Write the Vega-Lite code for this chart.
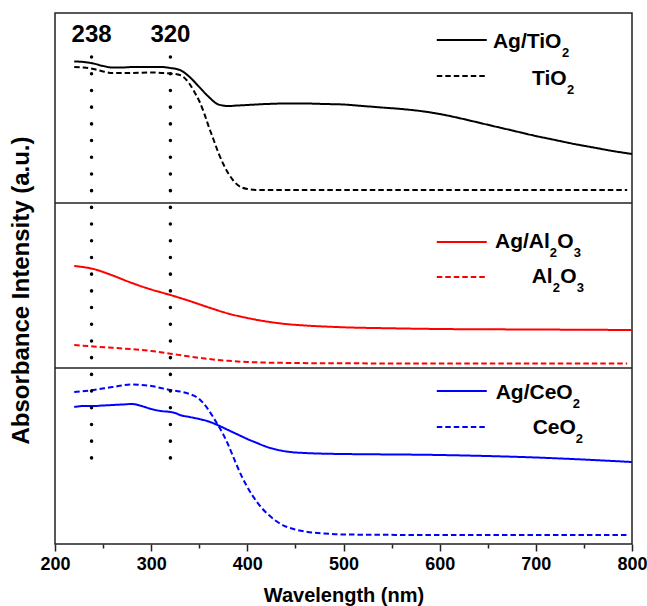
{
  "$schema": "https://vega.github.io/schema/vega-lite/v6.json",
  "width": 577,
  "height": 531,
  "autosize": {"type": "none"},
  "padding": {"left": 55, "top": 13, "right": 15, "bottom": 62},
  "background": "white",
  "config": {
    "view": {"stroke": "#222222", "strokeWidth": 1.5},
    "font": "Liberation Sans",
    "text": {"font": "Liberation Sans", "fontWeight": "bold", "color": "black", "align": "left", "baseline": "alphabetic", "fontSize": 21}
  },
  "datasets": {
    "spectra": [
      {"series": "Ag/TiO2", "wl": 220, "a": 482.5},
      {"series": "Ag/TiO2", "wl": 230, "a": 482},
      {"series": "Ag/TiO2", "wl": 240, "a": 480.5},
      {"series": "Ag/TiO2", "wl": 250, "a": 478},
      {"series": "Ag/TiO2", "wl": 260, "a": 476.5},
      {"series": "Ag/TiO2", "wl": 270, "a": 476.5},
      {"series": "Ag/TiO2", "wl": 280, "a": 477},
      {"series": "Ag/TiO2", "wl": 300, "a": 477},
      {"series": "Ag/TiO2", "wl": 310, "a": 477},
      {"series": "Ag/TiO2", "wl": 320, "a": 476},
      {"series": "Ag/TiO2", "wl": 330, "a": 474},
      {"series": "Ag/TiO2", "wl": 340, "a": 467},
      {"series": "Ag/TiO2", "wl": 350, "a": 457},
      {"series": "Ag/TiO2", "wl": 360, "a": 447},
      {"series": "Ag/TiO2", "wl": 370, "a": 439.5},
      {"series": "Ag/TiO2", "wl": 380, "a": 438},
      {"series": "Ag/TiO2", "wl": 390, "a": 438.5},
      {"series": "Ag/TiO2", "wl": 400, "a": 439},
      {"series": "Ag/TiO2", "wl": 420, "a": 440},
      {"series": "Ag/TiO2", "wl": 440, "a": 440.5},
      {"series": "Ag/TiO2", "wl": 460, "a": 440.5},
      {"series": "Ag/TiO2", "wl": 480, "a": 440},
      {"series": "Ag/TiO2", "wl": 500, "a": 439.5},
      {"series": "Ag/TiO2", "wl": 520, "a": 438},
      {"series": "Ag/TiO2", "wl": 540, "a": 436.5},
      {"series": "Ag/TiO2", "wl": 560, "a": 435},
      {"series": "Ag/TiO2", "wl": 580, "a": 433},
      {"series": "Ag/TiO2", "wl": 600, "a": 430},
      {"series": "Ag/TiO2", "wl": 620, "a": 426},
      {"series": "Ag/TiO2", "wl": 640, "a": 421.5},
      {"series": "Ag/TiO2", "wl": 660, "a": 417},
      {"series": "Ag/TiO2", "wl": 680, "a": 412.5},
      {"series": "Ag/TiO2", "wl": 700, "a": 408},
      {"series": "Ag/TiO2", "wl": 720, "a": 404},
      {"series": "Ag/TiO2", "wl": 740, "a": 400},
      {"series": "Ag/TiO2", "wl": 760, "a": 396.5},
      {"series": "Ag/TiO2", "wl": 780, "a": 393},
      {"series": "Ag/TiO2", "wl": 800, "a": 390},
      {"series": "TiO2", "wl": 220, "a": 477},
      {"series": "TiO2", "wl": 230, "a": 476.5},
      {"series": "TiO2", "wl": 240, "a": 475},
      {"series": "TiO2", "wl": 250, "a": 472.5},
      {"series": "TiO2", "wl": 260, "a": 471},
      {"series": "TiO2", "wl": 280, "a": 471},
      {"series": "TiO2", "wl": 300, "a": 471.5},
      {"series": "TiO2", "wl": 320, "a": 470.5},
      {"series": "TiO2", "wl": 330, "a": 469},
      {"series": "TiO2", "wl": 340, "a": 460},
      {"series": "TiO2", "wl": 345, "a": 452},
      {"series": "TiO2", "wl": 350, "a": 443},
      {"series": "TiO2", "wl": 355, "a": 431},
      {"series": "TiO2", "wl": 360, "a": 417},
      {"series": "TiO2", "wl": 365, "a": 404},
      {"series": "TiO2", "wl": 370, "a": 391},
      {"series": "TiO2", "wl": 375, "a": 380},
      {"series": "TiO2", "wl": 380, "a": 371},
      {"series": "TiO2", "wl": 385, "a": 364},
      {"series": "TiO2", "wl": 390, "a": 359},
      {"series": "TiO2", "wl": 400, "a": 355},
      {"series": "TiO2", "wl": 410, "a": 354},
      {"series": "TiO2", "wl": 450, "a": 354},
      {"series": "TiO2", "wl": 500, "a": 354},
      {"series": "TiO2", "wl": 600, "a": 354},
      {"series": "TiO2", "wl": 700, "a": 354},
      {"series": "TiO2", "wl": 795, "a": 354},
      {"series": "Ag/Al2O3", "wl": 220, "a": 278},
      {"series": "Ag/Al2O3", "wl": 240, "a": 275},
      {"series": "Ag/Al2O3", "wl": 260, "a": 268.5},
      {"series": "Ag/Al2O3", "wl": 280, "a": 261},
      {"series": "Ag/Al2O3", "wl": 300, "a": 254.5},
      {"series": "Ag/Al2O3", "wl": 320, "a": 249},
      {"series": "Ag/Al2O3", "wl": 340, "a": 243},
      {"series": "Ag/Al2O3", "wl": 360, "a": 236.5},
      {"series": "Ag/Al2O3", "wl": 380, "a": 230.5},
      {"series": "Ag/Al2O3", "wl": 400, "a": 226},
      {"series": "Ag/Al2O3", "wl": 420, "a": 222.5},
      {"series": "Ag/Al2O3", "wl": 440, "a": 220},
      {"series": "Ag/Al2O3", "wl": 460, "a": 218.5},
      {"series": "Ag/Al2O3", "wl": 480, "a": 217.5},
      {"series": "Ag/Al2O3", "wl": 500, "a": 216.7},
      {"series": "Ag/Al2O3", "wl": 550, "a": 215.7},
      {"series": "Ag/Al2O3", "wl": 600, "a": 215},
      {"series": "Ag/Al2O3", "wl": 700, "a": 214.5},
      {"series": "Ag/Al2O3", "wl": 800, "a": 214},
      {"series": "Al2O3", "wl": 220, "a": 199},
      {"series": "Al2O3", "wl": 240, "a": 197.5},
      {"series": "Al2O3", "wl": 260, "a": 196.2},
      {"series": "Al2O3", "wl": 280, "a": 194.8},
      {"series": "Al2O3", "wl": 300, "a": 193},
      {"series": "Al2O3", "wl": 320, "a": 190.3},
      {"series": "Al2O3", "wl": 340, "a": 187.5},
      {"series": "Al2O3", "wl": 360, "a": 185},
      {"series": "Al2O3", "wl": 380, "a": 183.2},
      {"series": "Al2O3", "wl": 400, "a": 182},
      {"series": "Al2O3", "wl": 450, "a": 181},
      {"series": "Al2O3", "wl": 500, "a": 180.7},
      {"series": "Al2O3", "wl": 600, "a": 180.5},
      {"series": "Al2O3", "wl": 795, "a": 180.5},
      {"series": "Ag/CeO2", "wl": 220, "a": 137},
      {"series": "Ag/CeO2", "wl": 230, "a": 138},
      {"series": "Ag/CeO2", "wl": 240, "a": 138},
      {"series": "Ag/CeO2", "wl": 250, "a": 138.5},
      {"series": "Ag/CeO2", "wl": 260, "a": 139},
      {"series": "Ag/CeO2", "wl": 270, "a": 139.5},
      {"series": "Ag/CeO2", "wl": 280, "a": 140},
      {"series": "Ag/CeO2", "wl": 290, "a": 138},
      {"series": "Ag/CeO2", "wl": 300, "a": 135},
      {"series": "Ag/CeO2", "wl": 310, "a": 133},
      {"series": "Ag/CeO2", "wl": 320, "a": 132},
      {"series": "Ag/CeO2", "wl": 325, "a": 131},
      {"series": "Ag/CeO2", "wl": 330, "a": 129},
      {"series": "Ag/CeO2", "wl": 340, "a": 127},
      {"series": "Ag/CeO2", "wl": 350, "a": 125},
      {"series": "Ag/CeO2", "wl": 360, "a": 122.5},
      {"series": "Ag/CeO2", "wl": 370, "a": 118.5},
      {"series": "Ag/CeO2", "wl": 380, "a": 114},
      {"series": "Ag/CeO2", "wl": 390, "a": 109.5},
      {"series": "Ag/CeO2", "wl": 400, "a": 105},
      {"series": "Ag/CeO2", "wl": 410, "a": 101},
      {"series": "Ag/CeO2", "wl": 420, "a": 97.2},
      {"series": "Ag/CeO2", "wl": 430, "a": 94.5},
      {"series": "Ag/CeO2", "wl": 440, "a": 92.6},
      {"series": "Ag/CeO2", "wl": 450, "a": 91.5},
      {"series": "Ag/CeO2", "wl": 460, "a": 91},
      {"series": "Ag/CeO2", "wl": 480, "a": 90.3},
      {"series": "Ag/CeO2", "wl": 500, "a": 90},
      {"series": "Ag/CeO2", "wl": 600, "a": 89},
      {"series": "Ag/CeO2", "wl": 700, "a": 86.5},
      {"series": "Ag/CeO2", "wl": 800, "a": 82},
      {"series": "CeO2", "wl": 220, "a": 152},
      {"series": "CeO2", "wl": 240, "a": 154},
      {"series": "CeO2", "wl": 260, "a": 157},
      {"series": "CeO2", "wl": 280, "a": 159.5},
      {"series": "CeO2", "wl": 290, "a": 159},
      {"series": "CeO2", "wl": 300, "a": 158},
      {"series": "CeO2", "wl": 310, "a": 156},
      {"series": "CeO2", "wl": 320, "a": 154},
      {"series": "CeO2", "wl": 330, "a": 152.5},
      {"series": "CeO2", "wl": 340, "a": 150},
      {"series": "CeO2", "wl": 350, "a": 145},
      {"series": "CeO2", "wl": 355, "a": 140},
      {"series": "CeO2", "wl": 360, "a": 133.5},
      {"series": "CeO2", "wl": 365, "a": 126},
      {"series": "CeO2", "wl": 370, "a": 118},
      {"series": "CeO2", "wl": 375, "a": 109.5},
      {"series": "CeO2", "wl": 380, "a": 99.5},
      {"series": "CeO2", "wl": 385, "a": 88},
      {"series": "CeO2", "wl": 390, "a": 76.5},
      {"series": "CeO2", "wl": 395, "a": 66},
      {"series": "CeO2", "wl": 400, "a": 57},
      {"series": "CeO2", "wl": 405, "a": 49},
      {"series": "CeO2", "wl": 410, "a": 42},
      {"series": "CeO2", "wl": 415, "a": 36},
      {"series": "CeO2", "wl": 420, "a": 31},
      {"series": "CeO2", "wl": 430, "a": 23},
      {"series": "CeO2", "wl": 440, "a": 17.5},
      {"series": "CeO2", "wl": 450, "a": 14.5},
      {"series": "CeO2", "wl": 460, "a": 12.5},
      {"series": "CeO2", "wl": 480, "a": 10.5},
      {"series": "CeO2", "wl": 500, "a": 9.5},
      {"series": "CeO2", "wl": 600, "a": 9},
      {"series": "CeO2", "wl": 795, "a": 9}
    ]
  },
  "layer": [
    {
      "data": {"name": "spectra"},
      "mark": {"type": "line", "strokeWidth": 2, "interpolate": "monotone"},
      "encoding": {
        "x": {
          "field": "wl", "type": "quantitative",
          "scale": {"domain": [200, 800], "nice": false},
          "axis": {
            "values": [200, 250, 300, 350, 400, 450, 500, 550, 600, 650, 700, 750, 800],
            "labelExpr": "datum.value % 100 === 0 ? datum.label : ''",
            "tickSize": {"condition": {"test": "datum.value % 100 === 0", "value": 7}, "value": 4},
            "tickColor": "#222222", "tickWidth": 1.5,
            "domain": false, "grid": false,
            "labelFlush": false, "labelOverlap": false,
            "labelFont": "Liberation Sans", "labelFontWeight": "bold", "labelFontSize": 18,
            "labelColor": "black", "labelPadding": 4,
            "title": "Wavelength (nm)",
            "titleFont": "Liberation Sans", "titleFontWeight": "bold", "titleFontSize": 20,
            "titleColor": "black", "titlePadding": 12
          }
        },
        "y": {
          "field": "a", "type": "quantitative",
          "scale": {"domain": [0, 531], "nice": false, "zero": false},
          "axis": {
            "ticks": false, "labels": false, "domain": false, "grid": false,
            "title": "Absorbance Intensity (a.u.)",
            "titleFont": "Liberation Sans", "titleFontWeight": "bold", "titleFontSize": 24,
            "titleColor": "black", "titlePadding": 22, "titleY": 277
          }
        },
        "color": {
          "field": "series", "type": "nominal",
          "scale": {
            "domain": ["Ag/TiO2", "TiO2", "Ag/Al2O3", "Al2O3", "Ag/CeO2", "CeO2"],
            "range": ["#000000", "#000000", "#ff0000", "#ff0000", "#0000ff", "#0000ff"]
          },
          "legend": null
        },
        "strokeDash": {
          "field": "series", "type": "nominal",
          "scale": {
            "domain": ["Ag/TiO2", "TiO2", "Ag/Al2O3", "Al2O3", "Ag/CeO2", "CeO2"],
            "range": [[1, 0], [5.5, 3], [1, 0], [5.5, 3], [1, 0], [5.5, 3]]
          },
          "legend": null
        }
      }
    },
    {
      "data": {"values": [{"panel_edge": 341}, {"panel_edge": 176}]},
      "mark": {"type": "rule", "color": "#222222", "strokeWidth": 1.5},
      "encoding": {"y": {"field": "panel_edge", "type": "quantitative"}}
    },
    {
      "data": {"values": [{"wl": 238}, {"wl": 320}]},
      "mark": {"type": "rule", "color": "black", "strokeWidth": 3.5, "strokeCap": "round", "strokeDash": [0.1, 16.6]},
      "encoding": {
        "x": {"field": "wl", "type": "quantitative"},
        "y": {"datum": 487},
        "y2": {"datum": 72}
      }
    },
    {
      "data": {"values": [{"wl": 238, "label": "238"}, {"wl": 320, "label": "320"}]},
      "mark": {"type": "text", "fontSize": 24, "baseline": "middle", "align": "center"},
      "encoding": {
        "x": {"field": "wl", "type": "quantitative"},
        "y": {"datum": 509},
        "text": {"field": "label"}
      }
    },
    {
      "data": {"values": [{}]},
      "mark": {"type": "rule", "color": "#000000", "strokeWidth": 2},
      "encoding": {"x": {"datum": 597}, "x2": {"datum": 649}, "y": {"datum": 504}}
    },
    {
      "data": {"values": [{}]},
      "mark": {"type": "rule", "color": "#000000", "strokeWidth": 2, "strokeDash": [5.5, 3]},
      "encoding": {"x": {"datum": 597}, "x2": {"datum": 649}, "y": {"datum": 468}}
    },
    {
      "data": {"values": [{}]},
      "mark": {"type": "rule", "color": "#ff0000", "strokeWidth": 2},
      "encoding": {"x": {"datum": 597}, "x2": {"datum": 649}, "y": {"datum": 302}}
    },
    {
      "data": {"values": [{}]},
      "mark": {"type": "rule", "color": "#ff0000", "strokeWidth": 2, "strokeDash": [5.5, 3]},
      "encoding": {"x": {"datum": 597}, "x2": {"datum": 649}, "y": {"datum": 267}}
    },
    {
      "data": {"values": [{}]},
      "mark": {"type": "rule", "color": "#0000ff", "strokeWidth": 2},
      "encoding": {"x": {"datum": 597}, "x2": {"datum": 649}, "y": {"datum": 153}}
    },
    {
      "data": {"values": [{}]},
      "mark": {"type": "rule", "color": "#0000ff", "strokeWidth": 2, "strokeDash": [5.5, 3]},
      "encoding": {"x": {"datum": 597}, "x2": {"datum": 649}, "y": {"datum": 117}}
    },
    {
      "data": {"values": [{}]},
      "mark": {"type": "text"},
      "encoding": {"x": {"datum": 655.4}, "y": {"datum": 496}, "text": {"value": "Ag/TiO"}}
    },
    {
      "data": {"values": [{}]},
      "mark": {"type": "text", "fontSize": 13, "dx": 69, "dy": 8.5},
      "encoding": {"x": {"datum": 655.4}, "y": {"datum": 496}, "text": {"value": "2"}}
    },
    {
      "data": {"values": [{}]},
      "mark": {"type": "text"},
      "encoding": {"x": {"datum": 696}, "y": {"datum": 459}, "text": {"value": "TiO"}}
    },
    {
      "data": {"values": [{}]},
      "mark": {"type": "text", "fontSize": 13, "dx": 35, "dy": 8.5},
      "encoding": {"x": {"datum": 696}, "y": {"datum": 459}, "text": {"value": "2"}}
    },
    {
      "data": {"values": [{}]},
      "mark": {"type": "text"},
      "encoding": {"x": {"datum": 657.5}, "y": {"datum": 295.7}, "text": {"value": "Ag/Al"}}
    },
    {
      "data": {"values": [{}]},
      "mark": {"type": "text", "fontSize": 13, "dx": 54.8, "dy": 8.5},
      "encoding": {"x": {"datum": 657.5}, "y": {"datum": 295.7}, "text": {"value": "2"}}
    },
    {
      "data": {"values": [{}]},
      "mark": {"type": "text", "dx": 62.3},
      "encoding": {"x": {"datum": 657.5}, "y": {"datum": 295.7}, "text": {"value": "O"}}
    },
    {
      "data": {"values": [{}]},
      "mark": {"type": "text", "fontSize": 13, "dx": 78.8, "dy": 8.5},
      "encoding": {"x": {"datum": 657.5}, "y": {"datum": 295.7}, "text": {"value": "3"}}
    },
    {
      "data": {"values": [{}]},
      "mark": {"type": "text"},
      "encoding": {"x": {"datum": 695.7}, "y": {"datum": 260.7}, "text": {"value": "Al"}}
    },
    {
      "data": {"values": [{}]},
      "mark": {"type": "text", "fontSize": 13, "dx": 21, "dy": 8.5},
      "encoding": {"x": {"datum": 695.7}, "y": {"datum": 260.7}, "text": {"value": "2"}}
    },
    {
      "data": {"values": [{}]},
      "mark": {"type": "text", "dx": 28.5},
      "encoding": {"x": {"datum": 695.7}, "y": {"datum": 260.7}, "text": {"value": "O"}}
    },
    {
      "data": {"values": [{}]},
      "mark": {"type": "text", "fontSize": 13, "dx": 45, "dy": 8.5},
      "encoding": {"x": {"datum": 695.7}, "y": {"datum": 260.7}, "text": {"value": "3"}}
    },
    {
      "data": {"values": [{}]},
      "mark": {"type": "text"},
      "encoding": {"x": {"datum": 658.2}, "y": {"datum": 144.7}, "text": {"value": "Ag/CeO"}}
    },
    {
      "data": {"values": [{}]},
      "mark": {"type": "text", "fontSize": 13, "dx": 77, "dy": 8.5},
      "encoding": {"x": {"datum": 658.2}, "y": {"datum": 144.7}, "text": {"value": "2"}}
    },
    {
      "data": {"values": [{}]},
      "mark": {"type": "text"},
      "encoding": {"x": {"datum": 696.7}, "y": {"datum": 110}, "text": {"value": "CeO"}}
    },
    {
      "data": {"values": [{}]},
      "mark": {"type": "text", "fontSize": 13, "dx": 43.2, "dy": 8.5},
      "encoding": {"x": {"datum": 696.7}, "y": {"datum": 110}, "text": {"value": "2"}}
    }
  ]
}
